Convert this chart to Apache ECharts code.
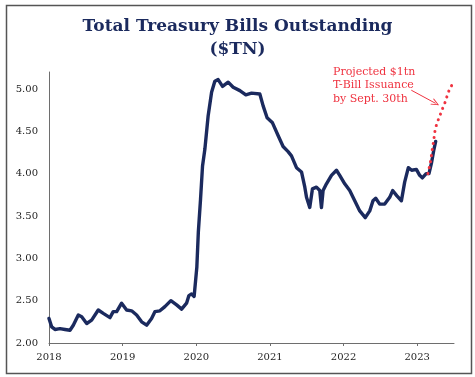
<!DOCTYPE html>
<html>
<head>
<meta charset="utf-8">
<title>Total Treasury Bills Outstanding</title>
<script src="https://cdn.jsdelivr.net/npm/echarts@6/dist/echarts.min.js"></script>
<style>
  html, body { margin: 0; padding: 0; background: #fff; }
  #chart { width: 475px; height: 377px; }
</style>
</head>
<body>
<div id="chart"></div>
<script>
// weekly-ish readings, decimal year -> $TN
const years = [
  2018.000, 2018.037, 2018.081, 2018.149, 2018.217, 2018.285, 2018.330, 2018.398,
  2018.444, 2018.512, 2018.579, 2018.669, 2018.737, 2018.828, 2018.872, 2018.919,
  2018.986, 2019.054, 2019.122, 2019.190, 2019.258, 2019.326, 2019.393, 2019.438,
  2019.506, 2019.574, 2019.655, 2019.733, 2019.801, 2019.868, 2019.900, 2019.936,
  2019.971, 2019.988, 2020.008, 2020.028, 2020.058, 2020.085, 2020.117, 2020.161,
  2020.208, 2020.252, 2020.297, 2020.357, 2020.433, 2020.501, 2020.592, 2020.673,
  2020.750, 2020.863, 2020.908, 2020.962, 2021.035, 2021.111, 2021.179, 2021.247,
  2021.293, 2021.361, 2021.429, 2021.474, 2021.497, 2021.541, 2021.578, 2021.632,
  2021.677, 2021.700, 2021.722, 2021.768, 2021.836, 2021.904, 2021.948, 2022.016,
  2022.084, 2022.152, 2022.220, 2022.295, 2022.356, 2022.400, 2022.437, 2022.491,
  2022.559, 2022.627, 2022.667, 2022.722, 2022.786, 2022.830, 2022.880, 2022.925,
  2022.989, 2023.034, 2023.070, 2023.122, 2023.160, 2023.193, 2023.224, 2023.251
];
const bills = [
  2.29, 2.19, 2.16, 2.17, 2.16, 2.15, 2.21, 2.33,
  2.31, 2.23, 2.27, 2.39, 2.35, 2.30, 2.37, 2.37,
  2.47, 2.39, 2.38, 2.33, 2.25, 2.21, 2.29, 2.37,
  2.38, 2.43, 2.50, 2.45, 2.40, 2.47, 2.56, 2.58,
  2.55, 2.57, 2.90, 3.31, 3.70, 4.09, 4.29, 4.68,
  4.96, 5.09, 5.11, 5.03, 5.08, 5.02, 4.98, 4.93,
  4.95, 4.94, 4.80, 4.66, 4.60, 4.45, 4.32, 4.26,
  4.21, 4.07, 4.02, 3.84, 3.72, 3.60, 3.82, 3.84,
  3.80, 3.60, 3.80, 3.88, 3.98, 4.04, 3.98, 3.88,
  3.80, 3.68, 3.56, 3.48, 3.56, 3.68, 3.71, 3.64,
  3.64, 3.72, 3.80, 3.74, 3.68, 3.90, 4.07, 4.04,
  4.05, 3.98, 3.95, 4.00, 4.00, 4.12, 4.27, 4.38
];

// projected path to Sept. 30th
const projYears = [2023.146, 2023.183, 2023.206, 2023.224, 2023.241, 2023.260, 2023.288,
  2023.315, 2023.350, 2023.383, 2023.404, 2023.432, 2023.468];
const projValues = [4.00, 4.15, 4.29, 4.39, 4.50, 4.57, 4.64, 4.70, 4.78, 4.85, 4.91, 4.98, 5.04];

const yearTicks = [2018, 2019, 2020, 2021, 2022, 2023];
const valueTicks = [2.0, 2.5, 3.0, 3.5, 4.0, 4.5, 5.0];

const noteLines = ['Projected $1tn', 'T-Bill Issuance', 'by Sept. 30th'];

const navy = '#1b2a5e';
const red = '#ef3340';
const serif = '"DejaVu Serif", "Liberation Serif", serif';

const chart = echarts.init(document.getElementById('chart'));

chart.setOption({
  animation: false,
  title: {
    text: 'Total Treasury Bills Outstanding\n($TN)',
    left: 'center',
    top: 10,
    textStyle: {
      color: navy,
      fontFamily: serif,
      fontWeight: 'bold',
      fontSize: 17,
      lineHeight: 23
    }
  },
  grid: { left: 49, right: 21, top: 72, bottom: 34 },
  xAxis: {
    type: 'value',
    min: 2018,
    max: 2023.5,
    interval: 1,
    axisLine: { lineStyle: { color: '#6e6e6e', width: 1 } },
    axisTick: { show: true, length: 3, customValues: yearTicks, lineStyle: { color: '#6e6e6e' } },
    axisLabel: {
      customValues: yearTicks,
      formatter: (v) => String(v),
      color: '#1e1e1e',
      fontFamily: serif,
      fontSize: 10,
      margin: 9
    },
    splitLine: { show: false }
  },
  yAxis: {
    type: 'value',
    min: 2,
    max: 5.2,
    interval: 0.5,
    axisLine: { show: true, lineStyle: { color: '#6e6e6e', width: 1 } },
    axisTick: { show: false },
    axisLabel: {
      customValues: valueTicks,
      formatter: (v) => v.toFixed(2),
      color: '#1e1e1e',
      fontFamily: serif,
      fontSize: 10,
      margin: 11
    },
    splitLine: { show: false }
  },
  series: [
    {
      name: 'Bills',
      type: 'line',
      data: years.map((y, i) => [y, bills[i]]),
      showSymbol: false,
      lineStyle: { color: navy, width: 3.4, join: 'round', cap: 'round' },
      z: 3
    },
    {
      name: 'Projected',
      type: 'line',
      data: projYears.map((y, i) => [y, projValues[i]]),
      showSymbol: false,
      lineStyle: { color: red, width: 3, type: [0.1, 6], cap: 'round' },
      z: 4,
      markLine: {
        silent: true,
        symbol: ['none', 'path://M0,10 L5,0 L10,10 L8.6,10 L5,2.6 L1.4,10 Z'],
        symbolSize: [7, 8],
        label: { show: false },
        lineStyle: { color: red, width: 1, type: 'solid' },
        data: [[{ coord: [2022.92, 4.985] }, { coord: [2023.25, 4.83] }]]
      }
    }
  ],
  graphic: [
    {
      type: 'rect',
      left: 4,
      top: 3,
      shape: { width: 465, height: 368 },
      style: { fill: 'none', stroke: '#555', lineWidth: 1.5 },
      silent: true
    },
    {
      type: 'text',
      left: 333,
      top: 65,
      style: {
        text: noteLines.join('\n'),
        fill: red,
        font: '11px ' + serif,
        lineHeight: 13.5
      }
    }
  ]
});
</script>
</body>
</html>
